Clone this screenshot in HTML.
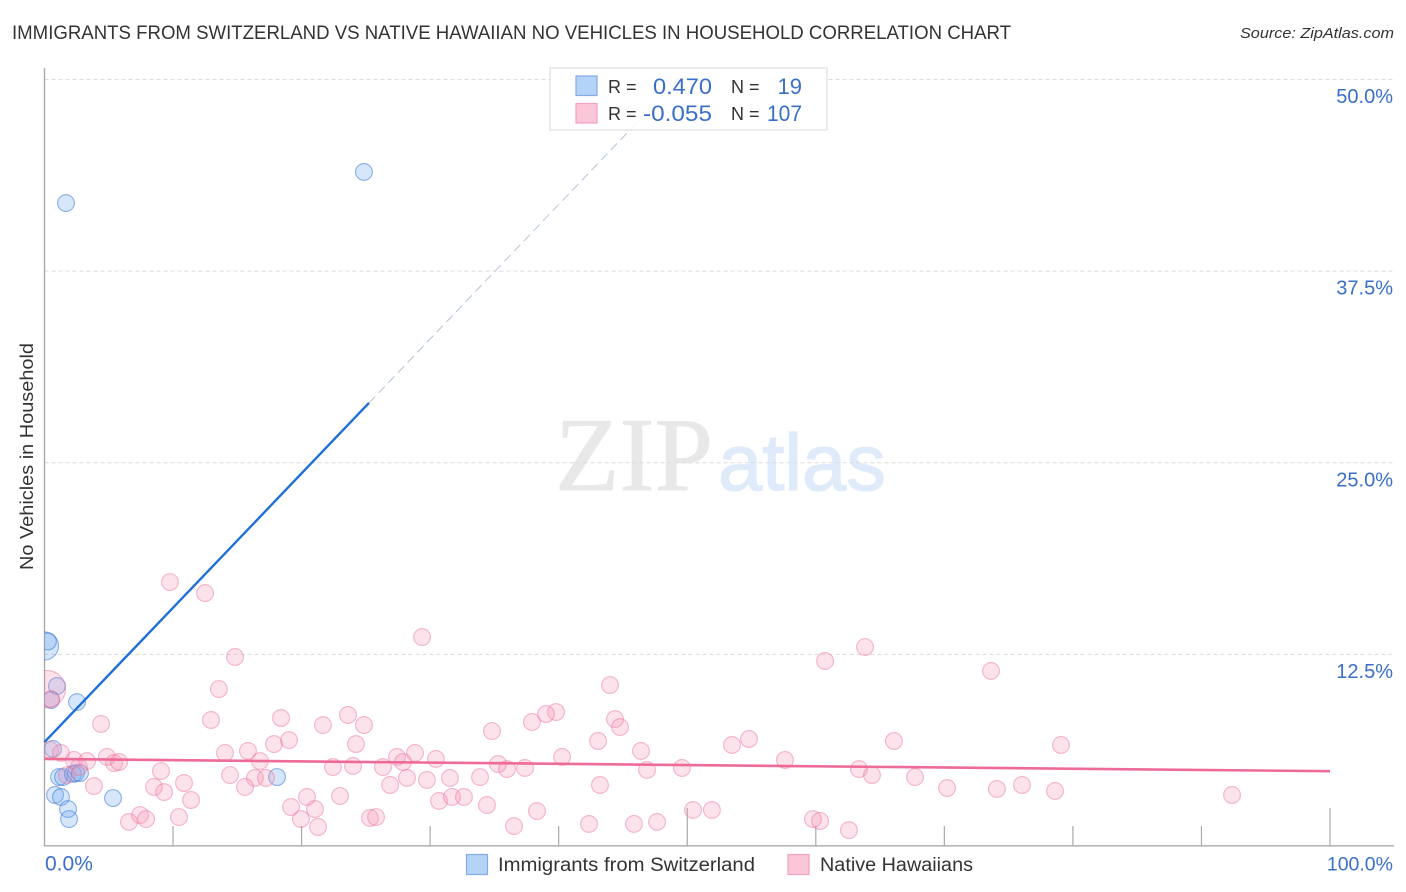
<!DOCTYPE html>
<html lang="en">
<head>
<meta charset="utf-8">
<title>Immigrants from Switzerland vs Native Hawaiian No Vehicles in Household Correlation Chart</title>
<style>
html,body{margin:0;padding:0;background:#fff;}
svg{display:block;font-family:"Liberation Sans",sans-serif;}
</style>
</head>
<body>
<svg id="chart" xmlns="http://www.w3.org/2000/svg" width="1406" height="892" viewBox="0 0 1406 892">
  <defs>
    <clipPath id="plot-clip"><rect x="44.5" y="60" width="1350" height="786"/></clipPath>
  </defs>
  <rect x="0" y="0" width="1406" height="892" fill="#fff"/>
  <text x="12" y="39" font-size="19.5" fill="#333" textLength="999" lengthAdjust="spacingAndGlyphs">IMMIGRANTS FROM SWITZERLAND VS NATIVE HAWAIIAN NO VEHICLES IN HOUSEHOLD CORRELATION CHART</text>
  <text x="1394" y="38" font-size="15" font-style="italic" fill="#333" text-anchor="end" textLength="154" lengthAdjust="spacingAndGlyphs">Source: ZipAtlas.com</text>

  <g>
    <text x="555" y="490" font-family="'Liberation Serif',serif" font-size="105" fill="#e8e8e8" stroke="#e8e8e8" stroke-width="0.8" textLength="158" lengthAdjust="spacingAndGlyphs">ZIP</text>
    <text x="718" y="490" font-size="80" fill="#dfeafa" stroke="#dfeafa" stroke-width="1.2" textLength="168" lengthAdjust="spacingAndGlyphs">atlas</text>
  </g>

  <g id="grid"></g>
  <g id="axes"></g>
  <g id="points" clip-path="url(#plot-clip)"></g>
  <g id="trends"></g>
  <g id="tick-labels"></g>

  <text transform="translate(33,456.5) rotate(-90)" font-size="18.5" fill="#333" text-anchor="middle" textLength="227" lengthAdjust="spacingAndGlyphs">No Vehicles in Household</text>

  <g>
    <rect x="550" y="68" width="277" height="62" fill="#fff" fill-opacity="0.9" stroke="#dedede" stroke-width="1.2"/>
    <rect x="576" y="76" width="21" height="19.5" fill="#b5d2f7" stroke="#82ade6" stroke-width="1.2"/>
    <rect x="576" y="103.5" width="21" height="19.5" fill="#fcc6d9" stroke="#f2a3bd" stroke-width="1.2"/>
    <text x="608" y="93" font-size="18" fill="#333">R =</text>
    <text x="712" y="94" font-size="22" fill="#3a6fc9" text-anchor="end" textLength="59" lengthAdjust="spacingAndGlyphs">0.470</text>
    <text x="731" y="93" font-size="18" fill="#333">N =</text>
    <text x="802" y="94" font-size="22" fill="#3a6fc9" text-anchor="end">19</text>
    <text x="608" y="120" font-size="18" fill="#333">R =</text>
    <text x="712" y="121" font-size="22" fill="#3a6fc9" text-anchor="end" textLength="69" lengthAdjust="spacingAndGlyphs">-0.055</text>
    <text x="731" y="120" font-size="18" fill="#333">N =</text>
    <text x="802" y="121" font-size="22" fill="#3a6fc9" text-anchor="end" textLength="35" lengthAdjust="spacingAndGlyphs">107</text>
  </g>

  <g>
    <rect x="466.5" y="854.5" width="21" height="20" fill="#b5d2f7" stroke="#82ade6" stroke-width="1.2"/>
    <text x="498" y="871" font-size="19" fill="#333" textLength="257" lengthAdjust="spacingAndGlyphs">Immigrants from Switzerland</text>
    <rect x="788" y="854.5" width="21" height="20" fill="#fcc6d9" stroke="#f2a3bd" stroke-width="1.2"/>
    <text x="820" y="871" font-size="19" fill="#333" textLength="153" lengthAdjust="spacingAndGlyphs">Native Hawaiians</text>
  </g>
</svg>
<script>
const yTickValues = [12.5, 25, 37.5, 50];
const yTickLabels = ["12.5%", "25.0%", "37.5%", "50.0%"];
const xTickValues = [10, 20, 30, 40, 50, 60, 70, 80, 90, 100];
const xMajorTicks = [50, 100];
const xEndValues = [0, 100];
const xEndLabels = ["0.0%", "100.0%"];

const swissX = [1.67, 24.85, 0.0, 0.27, 0.97, 0.51, 2.53, 0.66, 1.13, 1.44, 2.22, 2.45, 2.76, 18.09, 0.82, 1.28, 1.83, 1.91, 5.33];
const swissY = [41.94, 43.97, 13.05, 13.34, 10.44, 9.52, 9.39, 6.33, 4.50, 4.50, 4.70, 4.76, 4.76, 4.50, 3.33, 3.20, 2.41, 1.76, 3.13];
const swissWeightIndex = [2];
const swissWeightValue = [2.8];

const hawaiianX = [14.82, 13.57, 12.95, 4.40, 18.40, 21.66, 23.61, 19.02, 17.85, 15.83, 14.04, 16.76, 14.43, 16.37, 17.23, 15.60, 22.44, 22.99, 20.42, 21.04, 19.18, 19.95, 21.28, 0.43, 1.28, 2.29, 3.31, 4.86, 5.41, 5.80, 9.06, 10.85, 8.52, 9.30, 11.40, 10.46, 7.43, 7.90, 6.57, 3.85, 1.75, 2.68, 0.19, 0.51, 9.76, 12.49, 29.37, 43.99, 44.38, 44.77, 39.79, 39.01, 37.92, 34.81, 24.85, 24.23, 43.06, 46.40, 40.26, 30.45, 28.82, 27.42, 27.89, 26.33, 24.00, 35.28, 35.98, 37.38, 46.87, 49.59, 28.20, 26.88, 29.75, 31.54, 33.88, 43.21, 30.69, 31.70, 32.63, 34.42, 38.31, 25.32, 25.79, 36.52, 42.36, 45.86, 47.65, 50.45, 63.83, 60.72, 73.63, 53.48, 54.80, 66.08, 79.07, 57.60, 63.36, 64.37, 67.72, 70.21, 74.09, 76.04, 78.61, 92.38, 51.92, 59.78, 60.33, 62.58];
const hawaiianY = [12.33, 10.24, 8.22, 7.96, 8.35, 7.89, 8.55, 6.91, 6.65, 6.20, 6.07, 5.54, 4.63, 4.44, 4.44, 3.85, 5.15, 3.26, 3.20, 2.41, 2.54, 1.76, 1.24, 6.26, 6.07, 5.61, 5.54, 5.81, 5.41, 5.48, 4.89, 4.11, 3.85, 3.52, 3.00, 1.89, 2.02, 1.76, 1.57, 3.91, 4.63, 5.15, 10.24, 9.59, 17.22, 16.50, 13.63, 10.50, 8.28, 7.76, 8.74, 8.61, 8.09, 7.50, 7.89, 6.65, 6.85, 6.20, 5.81, 5.68, 6.07, 5.81, 5.48, 5.15, 5.22, 5.35, 5.02, 5.09, 4.96, 5.09, 4.44, 3.98, 4.31, 4.44, 4.50, 3.98, 2.94, 3.20, 3.20, 2.67, 2.28, 1.83, 1.89, 1.30, 1.44, 1.44, 1.57, 2.35, 12.98, 12.07, 11.42, 6.59, 6.98, 6.85, 6.59, 5.61, 5.02, 4.63, 4.50, 3.78, 3.72, 3.98, 3.59, 3.33, 2.35, 1.76, 1.63, 1.04];
const hawaiianWeightIndex = [42];
const hawaiianWeightValue = [4.9];

const swissTrendX = [0, 25.24];
const swissTrendY = [6.78, 28.9];
const swissDashX = [25.24, 49.3];
const swissDashY = [28.9, 50];
const hawaiianTrendX = [0, 100];
const hawaiianTrendY = [5.68, 4.88];

const SVG_NS = "http://www.w3.org/2000/svg";
const xScale = function (v) { return 44.5 + v * 12.855; };
const yScale = function (v) { return 846 - v * 15.33; };
const radius = function (w) { return 8.4 * Math.sqrt(w); };

function make(tag, parent, attrs) {
  const el = document.createElementNS(SVG_NS, tag);
  Object.keys(attrs).forEach(function (k) { el.setAttribute(k, attrs[k]); });
  document.getElementById(parent).appendChild(el);
  return el;
}

yTickValues.forEach(function (v, i) {
  const grid = make("line", "grid", { x1: 44.5, x2: 1394, y1: yScale(v), y2: yScale(v), stroke: "#dcdcdc", "stroke-width": 1, "stroke-dasharray": "4 3" });
  
  
  const label = make("text", "tick-labels", { x: 1393, y: yScale(v) + 23.5, "font-size": 20, fill: "#3a6fc9", "text-anchor": "end" });
  
  
  label.textContent = yTickLabels[i];
});

const yAxisLine = make("line", "axes", { x1: 44.5, x2: 44.5, y1: 68, y2: 846, stroke: "#aaa", "stroke-width": 1.4 });


const xAxisLine = make("line", "axes", { x1: 44, x2: 1394, y1: 845.8, y2: 845.8, stroke: "#aaa", "stroke-width": 1.4 });



xTickValues.forEach(function (v) {
  const top = xMajorTicks.indexOf(v) >= 0 ? 808 : 826;
  const tick = make("line", "axes", { x1: xScale(v), x2: xScale(v), y1: top, y2: 846, stroke: "#aaa", "stroke-width": 1.2 });
  
  
});

xEndValues.forEach(function (v, i) {
  const label = make("text", "tick-labels", { x: i === 0 ? xScale(v) + 0.5 : 1393, y: 870.5, "font-size": i === 0 ? 21 : 19.5, fill: "#3a6fc9", "text-anchor": i === 0 ? "start" : "end" });
  
  
  label.textContent = xEndLabels[i];
});

swissX.forEach(function (x, i) {
  const k = swissWeightIndex.indexOf(i);
  const w = k >= 0 ? swissWeightValue[k] : 1;
  const c = make("circle", "points", { cx: xScale(x), cy: yScale(swissY[i]), r: radius(w), fill: "rgba(105,165,240,0.27)", stroke: "rgba(45,110,215,0.52)", "stroke-width": 1.1 });
  
  
});

hawaiianX.forEach(function (x, i) {
  const k = hawaiianWeightIndex.indexOf(i);
  const w = k >= 0 ? hawaiianWeightValue[k] : 1;
  const c = make("circle", "points", { cx: xScale(x), cy: yScale(hawaiianY[i]), r: radius(w), fill: "rgba(245,140,175,0.25)", stroke: "rgba(235,115,155,0.5)", "stroke-width": 1.1 });
  
  
});

const swissDash = make("line", "trends", { x1: xScale(swissDashX[0]), y1: yScale(swissDashY[0]), x2: xScale(swissDashX[1]), y2: yScale(swissDashY[1]), stroke: "#b4c4d8", "stroke-width": 1, "stroke-dasharray": "9 5" });


const swissTrend = make("line", "trends", { x1: xScale(swissTrendX[0]), y1: yScale(swissTrendY[0]), x2: xScale(swissTrendX[1]), y2: yScale(swissTrendY[1]), stroke: "#1f6fd6", "stroke-width": 2.4 });


const hawaiianTrend = make("line", "trends", { x1: xScale(hawaiianTrendX[0]), y1: yScale(hawaiianTrendY[0]), x2: xScale(hawaiianTrendX[1]), y2: yScale(hawaiianTrendY[1]), stroke: "#ee6b96", "stroke-width": 2.6 });


</script>
</body>
</html>
